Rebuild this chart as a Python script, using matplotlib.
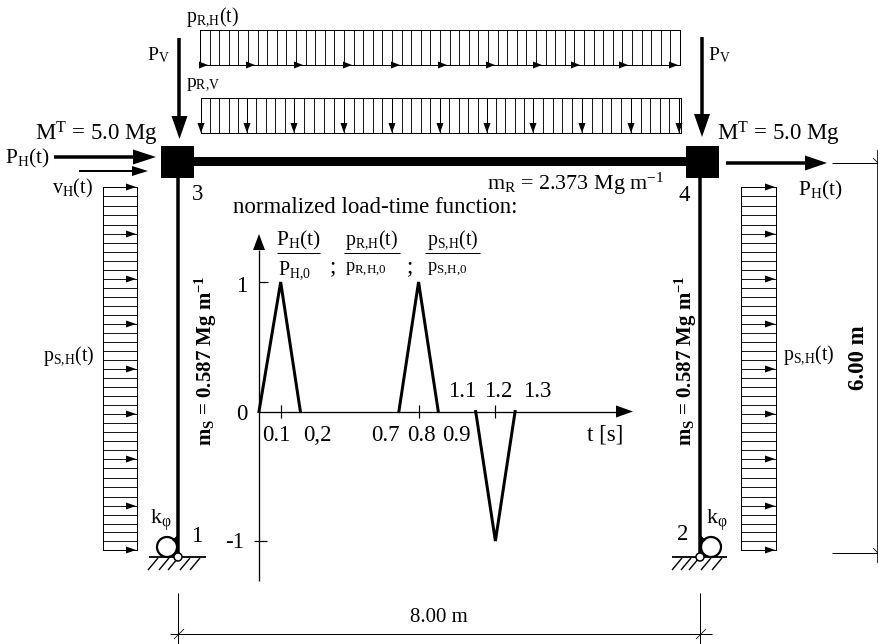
#!/usr/bin/env python3
"""Portal frame with dynamic loads and the normalized load-time function."""

import matplotlib
matplotlib.use("Agg")
import matplotlib.pyplot as plt

plt.rcParams["font.family"] = ["Liberation Serif"]
plt.rcParams["mathtext.fontset"] = "custom"
plt.rcParams["mathtext.rm"] = "Liberation Serif"
plt.rcParams["mathtext.it"] = "Liberation Serif"
plt.rcParams["mathtext.bf"] = "Liberation Serif:bold"
plt.rcParams["mathtext.default"] = "regular"

W, H = 879, 644
PX = 0.72  # 1 px in points at dpi 100

# load-time function, positions as drawn in the picture
load_t = [[0.0, 0.11, 0.21], [0.71, 0.81, 0.91], [1.1, 1.2, 1.3]]
load_f = [[0, 1, 0], [0, 1, 0], [0, -1, 0]]
lower_ticks = ["0.1", "0,2", "0.7", "0.8", "0.9"]
lower_tick_x = [276, 317, 385, 421, 456]
upper_ticks = ["1.1", "1.2", "1.3"]
upper_tick_x = [462, 498, 537]
marked_t = [0.11, 0.81, 1.2]

# load diagrams: arrow positions
roof_h_tips = [208, 255, 303, 352, 400, 447, 495, 542, 580, 628, 678]
roof_v_tips = [201, 247, 294, 344, 392, 440, 487, 533, 582, 631, 679]
wall_arrow_y = [187, 234, 279, 324, 369, 414, 459, 506, 550]
n_roof_cells = 50
cells_per_arrow = 5

fig = plt.figure(figsize=(W / 100, H / 100), dpi=100)
ax = fig.add_axes([0, 0, 1, 1])
ax.set_xlim(0, W)
ax.set_ylim(H, 0)
ax.axis("off")


def line(xs, ys, lw=1.0, zorder=2):
    ax.plot(xs, ys, color="black", lw=lw * PX, solid_capstyle="butt", zorder=zorder)


def arrow(x0, y0, x1, y1, lw, head_len, head_w):
    dx, dy = x1 - x0, y1 - y0
    n = (dx ** 2 + dy ** 2) ** 0.5
    ux, uy = dx / n, dy / n
    bx, by = x1 - ux * head_len, y1 - uy * head_len
    line([x0, bx], [y0, by], lw)
    ax.fill([x1, bx - uy * head_w / 2, bx + uy * head_w / 2],
            [y1, by + ux * head_w / 2, by - ux * head_w / 2],
            color="black", lw=0, zorder=3)


def label(x, y, s, size=16.5, **kw):
    ax.text(x, y, s, fontsize=size, ha=kw.pop("ha", "center"), va=kw.pop("va", "center"),
            color="black", **kw)


def box(x0, x1, y0, y1, lw=1.0):
    line([x0, x1, x1, x0, x0], [y0, y0, y1, y1, y0], lw)


def subdivide(stops):
    out = []
    for a, b in zip(stops[:-1], stops[1:]):
        out += [a + k * (b - a) / cells_per_arrow for k in range(cells_per_arrow)]
    return out + [stops[-1]]


# frame
line([178, 178], [178, 557], 3.5)
line([700, 700], [178, 557], 3.5)
line([190, 690], [160.5, 160.5], 9)
for x0 in (161, 686):
    ax.fill([x0, x0 + 33, x0 + 33, x0], [146, 146, 178, 178], color="black", lw=0, zorder=3)

# supports
for gx0, gx1, hatches, spring_x, side in [
    (149, 206, [158, 169, 178, 190, 200], 167, -1),
    (672, 727, [682, 691, 699, 711, 722], 711, 1),
]:
    line([gx0, gx1], [557, 557], 1.8)
    for hx in hatches:
        line([hx, hx - 10], [558, 570], 1.4)
    ax.add_patch(plt.Circle((spring_x, 547), 10, fc="none", ec="black", lw=1.6, zorder=3))
    col_x = 178 if side < 0 else 700
    ax.fill([col_x, col_x + side * 6, col_x], [535, 540, 545], color="black", lw=0, zorder=3)
for px in (178, 700):
    ax.add_patch(plt.Circle((px, 557), 4, fc="white", ec="black", lw=1.1, zorder=4))

# roof loads
box(200, 680, 30, 65)
for i in range(n_roof_cells + 1):
    vx = 200 + i * (680 - 200) / n_roof_cells
    line([vx, vx], [30, 65], 0.9)
for tip in roof_h_tips:
    arrow(tip - 9, 65, tip, 65, 1, 9, 7)

box(201, 681, 98, 133)
for vx in subdivide(roof_v_tips):
    line([vx, vx], [98, 133], 0.9)
for tip in roof_v_tips:
    arrow(tip, 98, tip, 133, 1, 10, 7)

# column loads
for x0, x1 in [(103, 137), (741, 776)]:
    box(x0, x1, 187, 550)
    for wy in subdivide(wall_arrow_y):
        line([x0, x1], [wy, wy], 0.9)
    for ay in wall_arrow_y:
        arrow(x1 - 12, ay, x1 - 1, ay, 1, 10, 7)

# point loads
arrow(179.5, 38, 179.5, 139, 3.5, 23, 16)
arrow(702, 37, 702, 137, 3.5, 23, 16)
arrow(54, 157, 156, 157, 3.5, 23, 15)
arrow(79, 171, 148, 171, 2, 16, 10)
arrow(726, 163, 827, 163, 3.5, 22, 15)

# dimensions
line([170, 712], [634, 634], 1)
for dx in (178, 700):
    line([dx, dx], [593, 644], 1)
    line([dx - 4, dx + 6], [639, 629], 0.8)
line([878, 878], [150, 563], 1.6)
line([832, 878], [163, 163], 1)
line([832, 878], [553, 553], 1)
line([873, 878], [158, 163], 0.8)
line([873, 878], [548, 553], 0.8)

# load-time axes
T_SCALE = 197
ax_t = fig.add_axes([259 / W, (H - 541) / H, 1.3 * T_SCALE / W, (541 - 282) / H])
ax_t.set_xlim(0, 1.3)
ax_t.set_ylim(-1, 1)
ax_t.axis("off")
ax_t.patch.set_alpha(0)
for ts, fs in zip(load_t, load_f):
    ax_t.plot(ts, fs, color="black", lw=3 * PX, clip_on=False, solid_joinstyle="miter")
ax_t.vlines(marked_t, -0.05, 0.05, color="black", lw=1.2 * PX, clip_on=False)
ax_t.hlines(1, 0, 0.045, color="black", lw=1.2 * PX, clip_on=False)
ax_t.hlines(-1, -0.025, 0.04, color="black", lw=1.2 * PX, clip_on=False)
arrow(259, 581, 259, 234, 1.3, 16, 12)
arrow(259, 411.5, 633, 411.5, 1.3, 17, 12)

for s, x in zip(lower_ticks, lower_tick_x):
    label(x, 435, s)
for s, x in zip(upper_ticks, upper_tick_x):
    label(x, 391, s)
label(242, 414, "0")
label(242, 286, "1")
label(235, 542, "-1")
label(605, 435, "t [s]")
label(233, 207, "normalized load-time function:", ha="left")

# fraction of loads
for num, den, nx, dx, x0, x1, nsize, dsize in [
    (r"$P_{H}(t)$", r"$P_{H{,}0}$", 298, 294, 277, 320, 15.5, 14.2),
    (r"$p_{R{,}H}(t)$", r"$p_{R{,}H{,}0}$", 372, 366, 344, 400, 14.2, 13.2),
    (r"$p_{S{,}H}(t)$", r"$p_{S{,}H{,}0}$", 453, 447, 425, 480, 14.2, 13.2),
]:
    label(nx, 240, num, size=nsize)
    label(dx, 270, den, size=dsize)
    line([x0, x1], [253, 253], 1)
label(333, 267, ";")
label(410, 267, ";")

# labels
label(158, 55, r"$P_{V}$", size=14)
label(213, 17, r"$p_{R{,}H}(t)$", size=14.2)
label(203, 85, r"$p_{R{,}V}$", size=14)
label(96, 134, r"$M^{T}$ = 5.0 Mg")
label(27, 158, r"$P_{H}(t)$", size=15.5)
label(72, 188, r"$v_{H}(t)$", size=14.5)
label(198, 194, "3")
label(576, 184, r"$m_{R}$ = 2.373 Mg m$^{-1}$", size=15.8)
label(684, 195, "4")
label(778, 134, r"$M^{T}$ = 5.0 Mg")
label(719, 55, r"$P_{V}$", size=14)
label(820, 190, r"$P_{H}(t)$", size=15.5)
label(69, 356, r"$p_{S{,}H}(t)$", size=14.2)
label(809, 355, r"$p_{S{,}H}(t)$", size=14.2)
label(161, 520, r"$k_{\varphi}$", size=16)
label(717, 520, r"$k_{\varphi}$", size=16)
label(197, 537, "1")
label(683, 535, "2")
label(439, 617, "8.00 m", size=15)
label(859, 358, "6.00 m", rotation=90, fontweight="bold")
for mx in (206, 686):
    label(mx, 361, r"$\mathbf{m_{S}}$ = 0.587 Mg m$^{-1}$", size=15, rotation=90, fontweight="bold")

fig.savefig("out.png", dpi=100)
